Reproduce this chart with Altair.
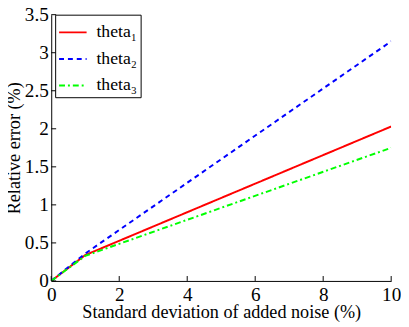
import altair as alt
import pandas as pd

noise = [0, 1, 10]
theta1 = [0, 0.34, 2.03]
theta2 = [0, 0.36, 3.15]
theta3 = [0, 0.33, 1.75]
series_names = ["theta₁", "theta₂", "theta₃"]
colors = ["#ff0000", "#0000ff", "#00ff00"]
dashes = [[1, 0], [5, 4], [6, 3, 2, 3]]
x_ticks = [0, 2, 4, 6, 8, 10]
y_ticks = [0, 0.5, 1, 1.5, 2, 2.5, 3, 3.5]

rows = []
for name, vals in zip(series_names, [theta1, theta2, theta3]):
    for x, y in zip(noise, vals):
        rows.append({"noise": x, "err": y, "series": name})
df = pd.DataFrame(rows)

W, H = 346, 271
FONT = "Liberation Serif"

xscale = alt.Scale(domain=[0, 10], nice=False, zero=False)
yscale = alt.Scale(domain=[0, 3.5], nice=False, zero=False)
common = dict(ticks=False, grid=False, labelOverlap=False, labelFlush=False,
              labelFont=FONT, labelFontSize=19.5, labelColor="black",
              titleFont=FONT, titleFontSize=18.5, titleColor="black",
              titleFontWeight="normal", domainColor="black", domainWidth=1)
xaxis = alt.Axis(values=x_ticks, labelPadding=5,
                 title="Standard deviation of added noise (%)", titlePadding=-1, **common)
yaxis = alt.Axis(values=y_ticks, labelPadding=3, format=".1~f",
                 title="Relative error (%)", titlePadding=1, **common)

lines = alt.Chart(df).mark_line(strokeWidth=2, clip=True).encode(
    x=alt.X("noise:Q", scale=xscale, axis=xaxis),
    y=alt.Y("err:Q", scale=yscale, axis=yaxis),
    color=alt.Color("series:N", scale=alt.Scale(domain=series_names, range=colors),
                    legend=alt.Legend(title=None, orient="none", legendX=4, legendY=0,
                                      symbolType="stroke", symbolSize=784,
                                      symbolStrokeWidth=2, labelOffset=9,
                                      rowPadding=3, padding=3,
                                      strokeColor="black", fillColor="white",
                                      labelFont=FONT, labelFontSize=18,
                                      labelColor="black")),
    strokeDash=alt.StrokeDash("series:N",
                              scale=alt.Scale(domain=series_names, range=dashes),
                              legend=None),
)

xt = alt.Chart(pd.DataFrame({"noise": x_ticks})).mark_rule(color="black", strokeWidth=1).encode(
    x=alt.X("noise:Q", scale=xscale, axis=xaxis), y=alt.value(H), y2=alt.value(H - 5))
yt = alt.Chart(pd.DataFrame({"err": y_ticks})).mark_rule(color="black", strokeWidth=1).encode(
    y=alt.Y("err:Q", scale=yscale, axis=yaxis), x=alt.value(0), x2=alt.value(5))

chart = alt.layer(lines, xt, yt).properties(
    width=W, height=H,
    autosize=alt.AutoSizeParams(type="none"),
    padding={"left": 44, "top": 4, "right": 10, "bottom": 40},
).configure_view(stroke=None)

chart.save("out.html", embed_options={"renderer": "svg", "actions": False})
